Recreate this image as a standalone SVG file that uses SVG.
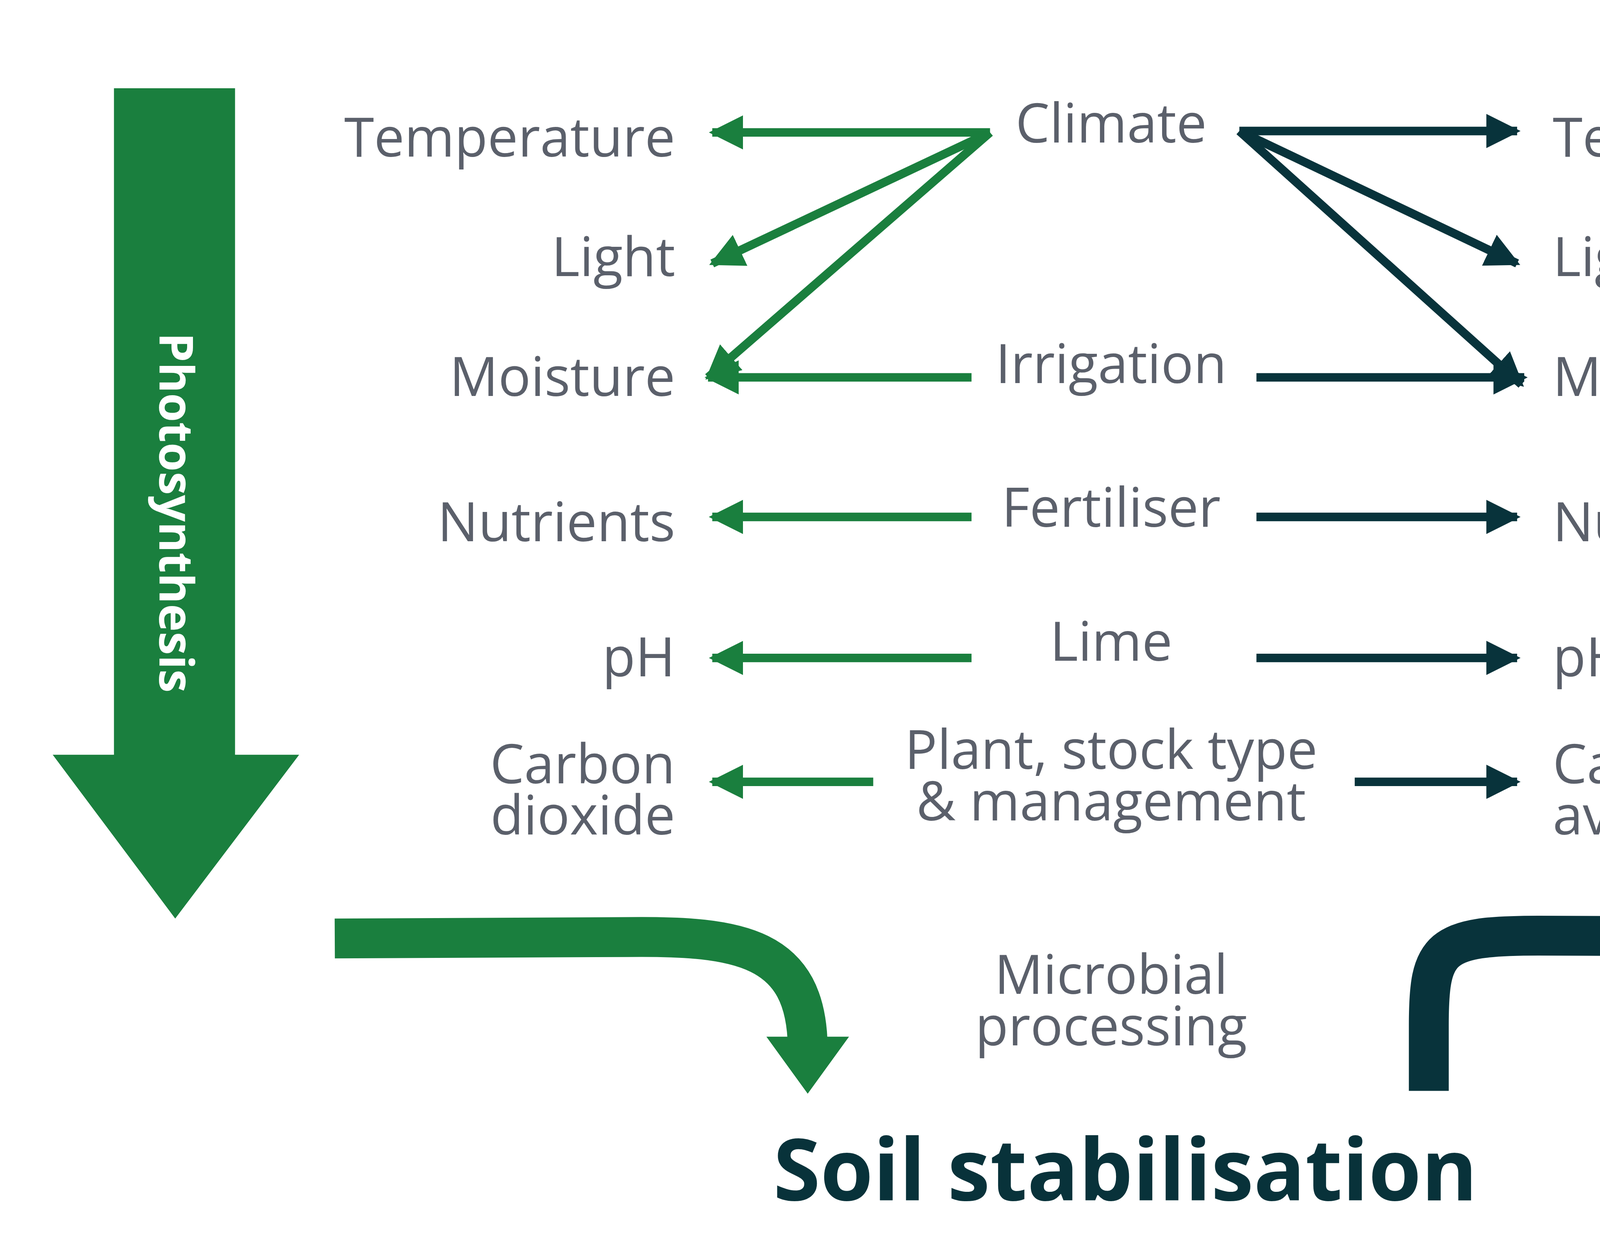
<svg xmlns="http://www.w3.org/2000/svg" width="5689" height="3201" viewBox="0 0 5689 3201">
<defs>
<style>
.t{font-family:"Open Sans","Liberation Sans",sans-serif;font-size:38px;fill:#5b606b}
.g{stroke:#1a7f3e;stroke-width:6;fill:none}
.d{stroke:#08333b;stroke-width:6;fill:none}
</style>
<marker id="mg" viewBox="0 0 10 10" refX="9" refY="5" markerWidth="4" markerHeight="4.4" orient="auto" markerUnits="strokeWidth"><path d="M0,0 L10,5 L0,10 Z" fill="#1a7f3e"/></marker>
<marker id="md" viewBox="0 0 10 10" refX="9" refY="5" markerWidth="4" markerHeight="4.4" orient="auto" markerUnits="strokeWidth"><path d="M0,0 L10,5 L0,10 Z" fill="#08333b"/></marker>
</defs>
<rect width="5689" height="3201" fill="#fff"/>
<g transform="scale(3.6468)">
<g id="photosynthesis">
<path d="M80,62 H165 V530 H210 L123,645 L37,530 H80 Z" fill="#1a7f3e"/>
<text transform="translate(112,360) rotate(90)" text-anchor="middle" font-family="Open Sans,Liberation Sans,sans-serif" font-weight="bold" font-size="33" fill="#fff">Photosynthesis</text>
</g>
<g id="respiration">
<path d="M1397,646 H1483 V177 H1527 L1440,62 L1354,177 H1397 Z" fill="#08333b"/>
<text transform="translate(1451,352) rotate(-90)" text-anchor="middle" font-family="Open Sans,Liberation Sans,sans-serif" font-weight="bold" font-size="33" fill="#fff">Respiration</text>
</g>
<g id="left" text-anchor="end">
<text x="474" y="110" class="t">Temperature</text>
<text x="474" y="194" class="t">Light</text>
<text x="474" y="278" class="t">Moisture</text>
<text x="474" y="380" class="t">Nutrients</text>
<text x="474" y="475" class="t">pH</text>
<text x="474" y="550" class="t">Carbon</text>
<text x="474" y="586" class="t">dioxide</text>
</g>
<g id="center" text-anchor="middle">
<text x="780" y="100" class="t">Climate</text>
<text x="780" y="269" class="t">Irrigation</text>
<text x="780" y="370" class="t">Fertiliser</text>
<text x="780" y="464" class="t">Lime</text>
<text x="780" y="540" class="t">Plant, stock type</text>
<text x="780" y="576" class="t">&amp; management</text>
<text x="780" y="698" class="t">Microbial</text>
<text x="780" y="734" class="t">processing</text>
</g>
<g id="right">
<text x="1090" y="110" class="t">Temperature</text>
<text x="1090" y="194" class="t">Light</text>
<text x="1090" y="278" class="t">Moisture</text>
<text x="1090" y="380" class="t">Nutrients</text>
<text x="1090" y="475" class="t">pH</text>
<text x="1090" y="550" class="t">Carbon</text>
<text x="1090" y="586" class="t">availability</text>
</g>
<g id="connectors">
<path class="g" d="M695,93 H500" marker-end="url(#mg)"/>
<path class="g" d="M695,93 L500,185" marker-end="url(#mg)"/>
<path class="g" d="M695,93 L497,265" marker-end="url(#mg)"/>
<path class="g" d="M682,265 H497" marker-end="url(#mg)"/>
<path class="g" d="M682,363 H500" marker-end="url(#mg)"/>
<path class="g" d="M682,462 H500" marker-end="url(#mg)"/>
<path class="g" d="M613,549 H500" marker-end="url(#mg)"/>
<path class="d" d="M870,92 H1065" marker-end="url(#md)"/>
<path class="d" d="M870,92 L1065,185" marker-end="url(#md)"/>
<path class="d" d="M870,92 L1068,270" marker-end="url(#md)"/>
<path class="d" d="M882,265 H1070" marker-end="url(#md)"/>
<path class="d" d="M882,363 H1065" marker-end="url(#md)"/>
<path class="d" d="M882,462 H1065" marker-end="url(#md)"/>
<path class="d" d="M951,549 H1065" marker-end="url(#md)"/>
<path d="M235,659 L440,658 C520,657 566,665 567,735" stroke="#1a7f3e" stroke-width="28" fill="none"/>
<path d="M538,728 H596 L567,768 Z" fill="#1a7f3e"/>
<path d="M1003,766 L1003,720 C1003,665 1010,657 1080,657 L1305,658" stroke="#08333b" stroke-width="28" fill="none"/>
<path d="M1299,630 L1337,658 L1299,686 Z" fill="#08333b"/>
</g>
<g id="soil">
<text x="790" y="843" text-anchor="middle" font-family="Open Sans,Liberation Sans,sans-serif" font-weight="bold" font-size="60" fill="#08323a">Soil stabilisation</text>
</g>
</g>
</svg>
